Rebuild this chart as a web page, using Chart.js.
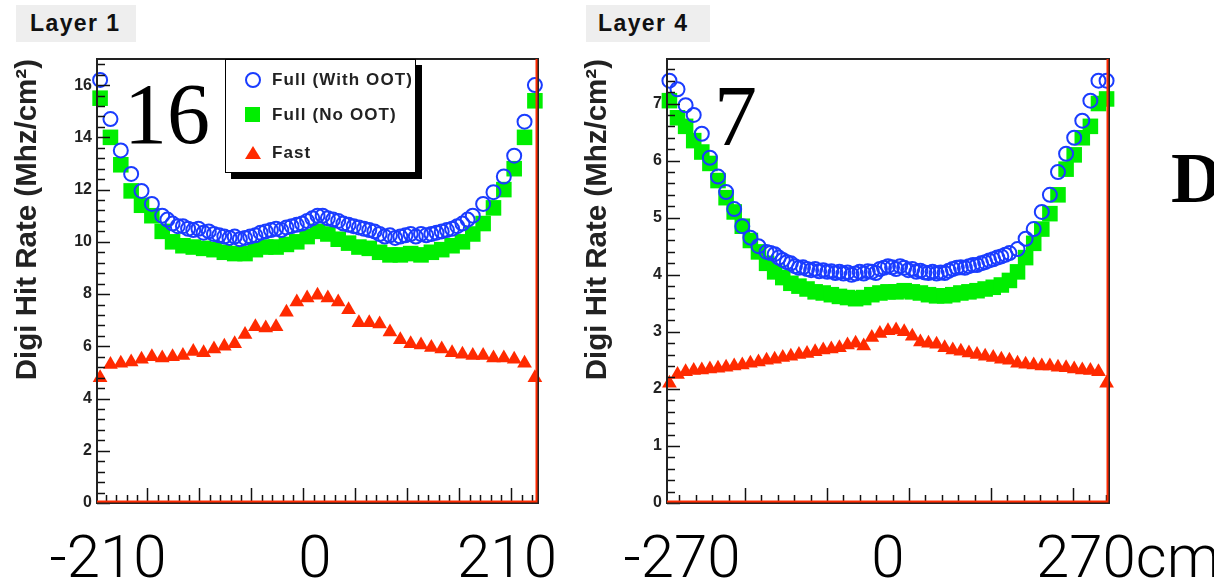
<!DOCTYPE html>
<html>
<head>
<meta charset="utf-8">
<title>Digi hit rate, layer 1 and layer 4</title>
<script src="https://cdn.jsdelivr.net/npm/chart.js@4.4.1/dist/chart.umd.min.js"></script>
<style>
  body {
    margin: 0;
    width: 1214px;
    height: 585px;
    background: #fff;
    position: relative;
    overflow: hidden;
    font-family: "Liberation Sans", Arial, sans-serif;
  }
  .abs { position: absolute; }
  .layer-tag {
    top: 5px;
    height: 37px;
    background: #eeeeee;
    font-weight: bold;
    font-size: 23px;
    line-height: 37px;
    letter-spacing: 1.4px;
    color: #111;
    box-sizing: border-box;
  }
  .big {
    font-family: "Liberation Serif", "DejaVu Serif", serif;
    font-size: 86px;
    line-height: 86px;
    color: #000;
  }
  .edge-label {
    top: 527px;
    font-family: Roboto, "Liberation Sans", sans-serif;
    font-weight: 300;
    font-size: 60px;
    line-height: 60px;
    color: #000;
    text-align: center;
    white-space: nowrap;
  }
  .legend {
    left: 225px;
    top: 59px;
    width: 191px;
    height: 114px;
    border: 1.5px solid #000;
    box-shadow: 6px 6px 0 #000;
    background: #fff;
    box-sizing: border-box;
  }
  .legend .row {
    position: absolute;
    left: 46px;
    font-weight: bold;
    font-size: 17px;
    line-height: 20px;
    letter-spacing: 1.1px;
    color: #222;
    white-space: nowrap;
  }
  .mk { position: absolute; box-sizing: border-box; }
</style>
</head>
<body>

<canvas id="layer1-canvas" class="abs" style="left:0;top:0" width="570" height="585"></canvas>
<canvas id="layer4-canvas" class="abs" style="left:570px;top:0" width="600" height="585"></canvas>

<div class="abs layer-tag" style="left:16px;width:120px;padding-left:14px">Layer 1</div>
<div class="abs layer-tag" style="left:586px;width:124px;padding-left:12px">Layer 4</div>

<div class="abs big" style="left:124px;top:71px">16</div>
<div class="abs big" style="left:714px;top:73px">7</div>
<div class="abs big" style="left:1171px;top:143px;font-size:71px;line-height:71px;font-weight:bold">D</div>

<div class="abs legend">
  <div class="mk" style="left:19px;top:12px;width:16px;height:16px;border:2px solid #1a3cff;border-radius:50%"></div>
  <div class="row" style="top:10px">Full (With OOT)</div>
  <div class="mk" style="left:19px;top:47px;width:15px;height:15px;background:#00ee00"></div>
  <div class="row" style="top:45px">Full (No OOT)</div>
  <div class="mk" style="left:19px;top:86px;width:0;height:0;border-left:8px solid transparent;border-right:8px solid transparent;border-bottom:13px solid #ff2a00"></div>
  <div class="row" style="top:83px">Fast</div>
</div>

<div class="abs edge-label" style="left:48px;width:120px">-210</div>
<div class="abs edge-label" style="left:285px;width:60px">0</div>
<div class="abs edge-label" style="left:452px;width:110px">210</div>
<div class="abs edge-label" style="left:622px;width:120px">-270</div>
<div class="abs edge-label" style="left:858px;width:60px">0</div>
<div class="abs edge-label" style="left:1036px;text-align:left">270cm</div>

<script>
/*
Data (rate in Mhz/cm2 against position in cm)
*/

const layer1X = [-210, -200, -190, -180, -170, -160, -150, -140, -130, -120, -110,
    -100, -90, -80, -70, -60, -50, -40, -30, -20, -10, 0, 10, 20, 30, 40, 50, 60,
    70, 80, 90, 100, 110, 120, 130, 140, 150, 160, 170, 180, 190, 200, 210];
const layer1NoOot = [15.5, 14.0, 12.95, 11.95, 11.4, 11.0, 10.4, 10.0, 9.85, 9.8, 9.75,
    9.7, 9.6, 9.55, 9.55, 9.7, 9.8, 9.8, 9.9, 10.0, 10.2, 10.4, 10.3, 10.1, 9.95, 9.8, 9.75, 9.6,
    9.5, 9.5, 9.55, 9.5, 9.6, 9.7, 9.85, 10.0, 10.3, 10.7, 11.3, 12.0, 12.8, 14.0, 15.4];
const layer1Fast = [4.8, 5.3, 5.35, 5.4, 5.5, 5.6, 5.55, 5.6, 5.65, 5.8, 5.75,
    5.9, 6.0, 6.1, 6.45, 6.75, 6.7, 6.75, 7.3, 7.7, 7.85, 7.95, 7.85, 7.7, 7.4, 6.9, 6.9, 6.85,
    6.55, 6.25, 6.1, 6.05, 5.95, 5.9, 5.75, 5.7, 5.65, 5.65, 5.55, 5.55, 5.5, 5.35, 4.8];

// the "with OOT" points are twice as dense in the flat middle part
const layer1WithOotX = [-210, -200, -190, -180, -170, -160, -150,
    -145, -140, -135, -130, -125, -120, -115, -110, -105, -100,
    -95, -90, -85, -80, -75, -70, -65, -60, -55, -50,
    -45, -40, -35, -30, -25, -20, -15, -10, -5, 0,
    5, 10, 15, 20, 25, 30, 35, 40, 45, 50,
    55, 60, 65, 70, 75, 80, 85, 90, 95, 100,
    105, 110, 115, 120, 125, 130, 135, 140, 145,
    150, 160, 170, 180, 190, 200, 210];
const layer1WithOot = [16.2, 14.7, 13.5, 12.6, 11.95, 11.45, 11.0,
    10.85, 10.7, 10.6, 10.6, 10.5, 10.45, 10.5, 10.35, 10.4, 10.3,
    10.25, 10.2, 10.15, 10.2, 10.1, 10.15, 10.2, 10.25, 10.35, 10.4,
    10.45, 10.5, 10.45, 10.55, 10.6, 10.65, 10.7, 10.8, 10.9, 11.0,
    11.0, 10.9, 10.85, 10.8, 10.7, 10.65, 10.6, 10.55, 10.5, 10.45,
    10.4, 10.3, 10.2, 10.25, 10.15, 10.2, 10.25, 10.3, 10.2, 10.3,
    10.25, 10.3, 10.35, 10.4, 10.45, 10.5, 10.6, 10.7, 10.85,
    11.0, 11.45, 11.9, 12.5, 13.3, 14.6, 16.0];

const layer4X = [-270, -260, -250, -240, -230, -220, -210, -200, -190, -180, -170,
    -160, -150, -140, -130, -120, -110, -100, -90, -80, -70, -60, -50, -40, -30, -20,
    -10, 0, 10, 20, 30, 40, 50, 60, 70, 80, 90, 100, 110, 120, 130, 140, 150, 160,
    170, 180, 190, 200, 210, 220, 230, 240, 250, 260, 270];
const layer4NoOot = [7.05, 6.75, 6.6, 6.35, 6.15, 5.95, 5.65, 5.35, 5.1, 4.85, 4.6,
    4.4, 4.2, 4.05, 3.95, 3.85, 3.8, 3.75, 3.7, 3.68, 3.65, 3.62, 3.6, 3.58, 3.6, 3.65,
    3.68, 3.7, 3.7, 3.72, 3.7, 3.68, 3.65, 3.63, 3.63, 3.65, 3.68, 3.7, 3.72, 3.75, 3.78, 3.82, 3.9, 4.05,
    4.3, 4.55, 4.8, 5.07, 5.4, 5.85, 6.1, 6.4, 6.6, 7.0, 7.08];
const layer4Fast = [2.1, 2.25, 2.3, 2.32, 2.33, 2.35, 2.36, 2.38, 2.4, 2.42, 2.45,
    2.47, 2.5, 2.52, 2.55, 2.57, 2.6, 2.62, 2.65, 2.68, 2.7, 2.72, 2.77, 2.8, 2.75, 2.9,
    2.97, 3.02, 3.03, 3.0, 2.92, 2.82, 2.8, 2.78, 2.72, 2.68, 2.66, 2.63, 2.6, 2.57, 2.55, 2.52, 2.5, 2.45,
    2.43, 2.42, 2.4, 2.4, 2.38, 2.37, 2.35, 2.33, 2.32, 2.3, 2.1];

const layer4WithOotX = [-270, -260, -250, -240, -230, -220, -210, -200, -190, -180, -170, -160, -150,
    -145, -140, -135, -130, -125, -120, -115, -110, -105, -100,
    -95, -90, -85, -80, -75, -70, -65, -60, -55, -50,
    -45, -40, -35, -30, -25, -20, -15, -10, -5, 0,
    5, 10, 15, 20, 25, 30, 35, 40, 45, 50,
    55, 60, 65, 70, 75, 80, 85, 90, 95, 100,
    105, 110, 115, 120, 125, 130, 135, 140, 145,
    150, 160, 170, 180, 190, 200, 210, 220, 230, 240, 250, 260, 270];
const layer4WithOot = [7.4, 7.25, 6.97, 6.8, 6.47, 6.05, 5.72, 5.45, 5.15, 4.85, 4.65, 4.5, 4.4,
    4.38, 4.36, 4.3, 4.26, 4.22, 4.2, 4.15, 4.12, 4.13, 4.1,
    4.08, 4.1, 4.06, 4.08, 4.05, 4.06, 4.03, 4.05, 4.02, 4.04,
    4.0, 4.02, 4.05, 4.02, 4.06, 4.05, 4.03, 4.1, 4.12, 4.15,
    4.13, 4.1, 4.15, 4.12, 4.08, 4.1, 4.05, 4.07, 4.04, 4.03,
    4.05, 4.02, 4.04, 4.03, 4.07, 4.1, 4.12, 4.13, 4.12, 4.15,
    4.17, 4.17, 4.2, 4.22, 4.25, 4.27, 4.3, 4.32, 4.35,
    4.38, 4.45, 4.63, 4.8, 5.1, 5.4, 5.8, 6.12, 6.4, 6.7, 7.05, 7.4, 7.4];

const seriesNames = ["Full (With OOT)", "Full (No OOT)", "Fast"];
const yTitle = "Digi Hit Rate (Mhz/cm²)";

const BLUE = "#1a3cff";
const GREEN = "#00ee00";
const RED = "#ff2a00";

/*
ROOT style frame: ticks inside the box, red edges of the "Fast" histogram
*/
const rootFrame = {
    id: "rootFrame",
    afterDatasetsDraw(chart, args, opts) {
        const { ctx, chartArea: area, scales } = chart;
        const y = scales.y;
        const xr = scales.xr;
        ctx.save();
        ctx.strokeStyle = "#111";
        ctx.lineWidth = 1.5;
        const minor = opts.yStep / 5;
        for (let i = 0; i * minor <= y.max + 1e-9; i++) {
            const py = Math.round(y.getPixelForValue(i * minor)) + 0.5;
            const len = i % 5 === 0 ? 13 : 8;
            ctx.beginPath();
            ctx.moveTo(area.left, py);
            ctx.lineTo(area.left + len, py);
            ctx.stroke();
        }
        for (let v = Math.ceil(xr.min / 2) * 2; v <= xr.max; v += 2) {
            const px = Math.round(xr.getPixelForValue(v)) + 0.5;
            const len = v % 10 === 0 ? 15 : 8;
            ctx.beginPath();
            ctx.moveTo(px, area.bottom);
            ctx.lineTo(px, area.bottom - len);
            ctx.stroke();
        }
        ctx.lineWidth = 2;
        ctx.strokeStyle = "#222";
        ctx.strokeRect(area.left, area.top, area.right - area.left, area.bottom - area.top);
        ctx.strokeStyle = RED;
        ctx.beginPath();
        ctx.moveTo(area.left, area.bottom - 1.5);
        ctx.lineTo(area.right - 1.5, area.bottom - 1.5);
        ctx.lineTo(area.right - 1.5, area.top);
        ctx.stroke();
        ctx.restore();
    }
};

function points(xs, ys) {
    return xs.map((x, i) => ({ x: x, y: ys[i] }));
}

function makeChart(canvasId, panel) {
    const ctx = document.getElementById(canvasId).getContext("2d");
    return new Chart(ctx, {
        type: "scatter",
        data: {
            datasets: [
                {
                    label: seriesNames[0],
                    data: points(panel.withOotX, panel.withOot),
                    pointStyle: "circle",
                    pointRadius: 7,
                    pointBorderWidth: 2,
                    borderColor: BLUE,
                    backgroundColor: "rgba(0,0,0,0)",
                    clip: false,
                },
                {
                    label: seriesNames[1],
                    data: points(panel.x, panel.noOot),
                    pointStyle: "rect",
                    pointRadius: 11,
                    pointBorderWidth: 0,
                    borderColor: GREEN,
                    backgroundColor: GREEN,
                    clip: false,
                },
                {
                    label: seriesNames[2],
                    data: points(panel.x, panel.fast),
                    pointStyle: "triangle",
                    pointRadius: 8.5,
                    pointBorderWidth: 0,
                    borderColor: RED,
                    backgroundColor: RED,
                    clip: false,
                },
            ]
        },
        options: {
            responsive: false,
            animation: false,
            events: [],
            layout: { padding: { top: 59, right: panel.padRight, bottom: 82, left: 0 } },
            plugins: {
                legend: { display: false },
                tooltip: { enabled: false },
                rootFrame: { yStep: panel.yStep },
            },
            scales: {
                x: { type: "linear", display: false, min: panel.xMin, max: panel.xMax },
                // the original ROOT axis, only used for the tick marks
                xr: { type: "linear", display: false, min: panel.rootMin, max: panel.rootMax },
                y: {
                    min: 0,
                    max: panel.yMax,
                    afterFit: (scale) => { scale.width = 97; },
                    grid: { display: false, drawTicks: false },
                    border: { display: false },
                    ticks: {
                        stepSize: panel.yStep,
                        includeBounds: false,
                        padding: 5,
                        color: "#222",
                        font: { family: "Liberation Sans", weight: "bold", size: 16 },
                    },
                    title: {
                        display: true,
                        text: yTitle,
                        align: "end",
                        color: "#222",
                        padding: { top: 10, bottom: 0 },
                        font: { family: "Liberation Sans", weight: "bold", size: 29.5 },
                    },
                },
            }
        },
        plugins: [rootFrame]
    });
}

makeChart("layer1-canvas", {
    x: layer1X, noOot: layer1NoOot, fast: layer1Fast,
    withOotX: layer1WithOotX, withOot: layer1WithOot,
    xMin: -213, xMax: 213, yMax: 17, yStep: 2,
    rootMin: 0.3, rootMax: 85.1, padRight: 32,
});

makeChart("layer4-canvas", {
    x: layer4X, noOot: layer4NoOot, fast: layer4Fast,
    withOotX: layer4WithOotX, withOot: layer4WithOot,
    xMin: -273, xMax: 273, yMax: 7.78, yStep: 1,
    rootMin: 0.5, rootMax: 54.4, padRight: 61,
});
</script>
</body>
</html>
